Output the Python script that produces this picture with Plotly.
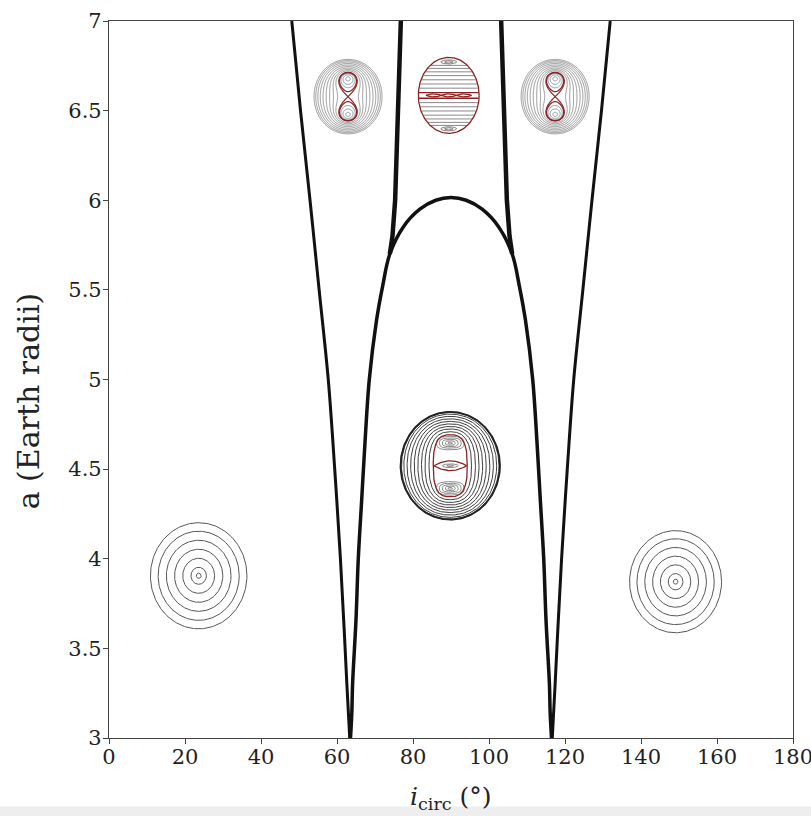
import numpy as np
import plotly.graph_objects as go

# ---------------- data ----------------
# thick boundary curves: inclination (deg) vs semi-major axis (Earth radii)
outer_left_i = [48.1, 50.4, 52.9, 55.3, 57.7, 59.4, 60.9, 61.9, 62.6, 63.1, 63.35]
outer_left_a = [7.0, 6.5, 6.0, 5.5, 5.0, 4.5, 4.0, 3.6, 3.3, 3.1, 3.0]
outer_right_i = [131.9, 129.6, 127.1, 124.7, 122.3, 120.6, 119.1, 118.1, 117.4, 116.9, 116.65]
outer_right_a = [7.0, 6.5, 6.0, 5.5, 5.0, 4.5, 4.0, 3.6, 3.3, 3.1, 3.0]

arch_i = [63.55, 63.9, 64.1, 65.0, 65.6, 66.5, 67.4, 68.5, 70.4, 72.0, 73.9, 77.4, 81.8, 86.0, 90.0,
          94.0, 98.2, 102.6, 106.1, 108.0, 109.6, 111.5, 112.6, 113.5, 114.4, 115.0, 115.9, 116.1, 116.45]
arch_a = [3.0, 3.14, 3.3, 3.66, 4.0, 4.33, 4.66, 5.0, 5.33, 5.52, 5.7, 5.85, 5.95, 6.0, 6.015,
          6.0, 5.95, 5.85, 5.7, 5.52, 5.33, 5.0, 4.66, 4.33, 4.0, 3.66, 3.3, 3.14, 3.0]

branch_left_i = [76.8, 76.0, 75.3, 74.6, 73.9]
branch_left_a = [7.0, 6.5, 6.0, 5.8, 5.7]
branch_right_i = [103.2, 104.0, 104.7, 105.4, 106.1]
branch_right_a = [7.0, 6.5, 6.0, 5.8, 5.7]

x_ticks = [0, 20, 40, 60, 80, 100, 120, 140, 160, 180]
y_ticks = [3, 3.5, 4, 4.5, 5, 5.5, 6, 6.5, 7]
y_tick_text = ["3", "3.5", "4", "4.5", "5", "5.5", "6", "6.5", "7"]
x_title = "<i>i</i><sub>circ</sub> (°)"
y_title = "a (Earth radii)"

# phase-portrait insets (centre in data coords, half sizes in data units)
ring_centers_i = [23.6, 149.1]
ring_centers_a = [3.905, 3.872]
ring_half_i = [12.7, 12.1]
ring_half_a = [0.296, 0.285]
ring_fracs = [1.0, 0.84, 0.67, 0.5, 0.33, 0.16, 0.05]

fig8_centers_i = [62.9, 117.4]
fig8_centers_a = [6.578, 6.578]
fig8_unit_i = 9.13
fig8_unit_a = 0.194
fig8_c = 0.55
fig8_island_levels = [-0.08, -0.06, -0.035]
fig8_sep_levels = [-0.012, 0.0]
fig8_outer_u = [0.3, 0.42, 0.53, 0.63, 0.72, 0.8, 0.87, 0.93, 0.98]

barrel_center = (89.4, 6.585)
barrel_half = (8.0, 0.212)
barrel_chords = [0.19, 0.3, 0.41, 0.52, 0.62, 0.71, 0.79]

central_center = (89.8, 4.519)
central_half = (13.08, 0.301)
central_ring_t = [1.0, 0.97, 0.9, 0.8, 0.69, 0.58, 0.47, 0.36, 0.25, 0.13]
capsule = (0.342, 0.574)

BLACK = "#111111"
RING = "#555555"
RED = "#8b2323"
BLUEGRAY = "#6f8090"

fig = go.Figure()


def add_line(x, y, color, width, shape="linear"):
    fig.add_trace(go.Scatter(x=x, y=y, mode="lines", hoverinfo="skip",
                             line=dict(color=color, width=width, shape=shape)))


def superellipse(cx, cy, ax, ay, p=2.0, n=240):
    t = np.linspace(0, 2 * np.pi, n)
    c, s = np.cos(t), np.sin(t)
    x = cx + ax * np.sign(c) * np.abs(c) ** (2.0 / p)
    y = cy + ay * np.sign(s) * np.abs(s) ** (2.0 / p)
    return list(x) + [None], list(y) + [None]


class Group:
    def __init__(self):
        self.x, self.y = [], []

    def add(self, xy):
        self.x += xy[0]
        self.y += xy[1]


# ---------------- simple ring insets ----------------
g = Group()
for ci, ca, hi, ha in zip(ring_centers_i, ring_centers_a, ring_half_i, ring_half_a):
    for f in ring_fracs:
        g.add(superellipse(ci, ca, hi * f, ha * f))
add_line(g.x, g.y, "#444444", 0.9)

# ---------------- figure-eight insets (contours) ----------------
uu = np.linspace(-1.15, 1.15, 161)
vv = np.linspace(-1.25, 1.25, 171)
U, V = np.meshgrid(uu, vv)
R2 = U ** 2 + V ** 2
F = R2 ** 2 + R2 ** 4 - 2 * fig8_c ** 2 * (V ** 2 - U ** 2)
outer_levels = [u ** 4 + u ** 8 + 2 * fig8_c ** 2 * u ** 2 for u in fig8_outer_u]
for ci, ca in zip(fig8_centers_i, fig8_centers_a):
    xs = ci + fig8_unit_i * uu
    ys = ca + fig8_unit_a * vv
    for lev, col, w in ([(l, BLUEGRAY, 0.8) for l in fig8_island_levels]
                        + [(l, RED, 1.2) for l in fig8_sep_levels]
                        + [(l, RING, 0.6) for l in outer_levels]):
        fig.add_trace(go.Contour(x=xs, y=ys, z=F, showscale=False, hoverinfo="skip",
                                 autocontour=False,
                                 contours=dict(start=lev, end=lev + 1e-9, size=1, coloring="none"),
                                 line=dict(color=col, width=w)))

# ---------------- barrel inset (top middle) ----------------
bx, by = barrel_center
bw, bh = barrel_half
gray = Group()
red = Group()
red.add(superellipse(bx, by, bw, bh))
for v in barrel_chords:
    hw = np.sqrt(1 - v ** 2) * 0.97
    for sv in (v, -v):
        gray.add(([bx - bw * hw, bx + bw * hw, None], [by + bh * sv, by + bh * sv, None]))
hw = np.sqrt(1 - 0.075 ** 2) * 0.98
for sv in (0.075, -0.075):
    red.add(([bx - bw * hw, bx + bw * hw, None], [by + bh * sv, by + bh * sv, None]))
for ec in (-0.5, 0.0, 0.5):
    uarr = np.linspace(-0.25, 0.25, 30)
    prof = 0.04 * (1 - (uarr / 0.25) ** 2)
    red.add((list(bx + bw * (ec + uarr)) + [None], list(by + bh * prof) + [None]))
    red.add((list(bx + bw * (ec + uarr)) + [None], list(by - bh * prof) + [None]))
for sv in (0.88, -0.88):
    gray.add(superellipse(bx, by + bh * sv, bw * 0.26, bh * 0.055))
    gray.add(superellipse(bx, by + bh * sv, bw * 0.14, bh * 0.028))
add_line(gray.x, gray.y, RING, 0.7)
add_line(red.x, red.y, RED, 1.3)

# ---------------- central inset ----------------
cx, cy = central_center
cw, ch = central_half
blk = Group()
gray = Group()
red = Group()
for t in central_ring_t:
    aw = capsule[0] + t * (1 - capsule[0])
    ah = capsule[1] + t * (1 - capsule[1])
    p = 2.6 - 0.6 * t
    blk.add(superellipse(cx, cy, cw * aw, ch * ah, p))
red.add(superellipse(cx, cy, cw * capsule[0], ch * capsule[1], 2.8))
uarr = np.linspace(-0.33, 0.33, 40)
prof = 0.09 * (1 - (uarr / 0.33) ** 2)
red.add((list(cx + cw * uarr) + [None], list(cy + ch * prof) + [None]))
red.add((list(cx + cw * uarr) + [None], list(cy - ch * prof) + [None]))
gray.add(superellipse(cx, cy, cw * 0.16, ch * 0.035))
gray.add(superellipse(cx, cy, cw * 0.07, ch * 0.015))
for sv in (0.42, -0.42):
    for aw, ah in [(0.28, 0.125), (0.22, 0.095), (0.16, 0.068), (0.1, 0.042), (0.045, 0.018)]:
        gray.add(superellipse(cx, cy + ch * sv, cw * aw, ch * ah, 2.8))
add_line(blk.x, blk.y, "#2a2a2a", 0.9)
add_line(gray.x, gray.y, "#5a5a5a", 0.7)
add_line(red.x, red.y, RED, 1.3)
rim = superellipse(cx, cy, cw, ch, 2.0)
add_line(rim[0], rim[1], "#222222", 1.8)

# ---------------- thick boundary curves ----------------
add_line(outer_left_i, outer_left_a, BLACK, 3, "spline")
add_line(outer_right_i, outer_right_a, BLACK, 3, "spline")
add_line(arch_i, arch_a, BLACK, 3.5, "spline")
add_line(branch_left_i, branch_left_a, BLACK, 4.5)
add_line(branch_right_i, branch_right_a, BLACK, 4.5)

FONT = "DejaVu Serif"
axis_common = dict(ticks="outside", ticklen=5, tickwidth=1.2, tickcolor="#444444",
                   showline=True, linecolor="#444444", linewidth=1.2, mirror=True,
                   showgrid=False, zeroline=False, automargin=False,
                   ticklabeloverflow="allow", tickfont=dict(family=FONT, size=21, color="#222222"))
fig.update_layout(
    width=811, height=816,
    margin=dict(l=109, r=18, t=21, b=78),
    paper_bgcolor="white", plot_bgcolor="white",
    showlegend=False, hovermode=False,
    font=dict(family=FONT, size=21, color="#222222"),
    xaxis=dict(range=[0, 180], tickvals=x_ticks, ticklabelstandoff=-5, **axis_common),
    yaxis=dict(range=[3, 7], tickvals=y_ticks, ticktext=y_tick_text, ticklabelstandoff=-3, **axis_common),
    annotations=[
        dict(text=y_title, textangle=-90, xref="paper", yref="paper", x=-0.118, y=0.47,
             xanchor="center", yanchor="middle", showarrow=False,
             font=dict(family=FONT, size=30, color="#222222")),
        dict(text=x_title, xref="paper", yref="paper", x=0.5, y=-0.059,
             xanchor="center", yanchor="top", showarrow=False,
             font=dict(family=FONT, size=25, color="#222222")),
    ],
    shapes=[dict(type="rect", xref="paper", yref="paper", x0=-0.2, x1=1.1, y0=-0.12, y1=-0.0955,
                 fillcolor="#eeeeee", line=dict(width=0), layer="below")],
)

fig.write_html("out.html")
